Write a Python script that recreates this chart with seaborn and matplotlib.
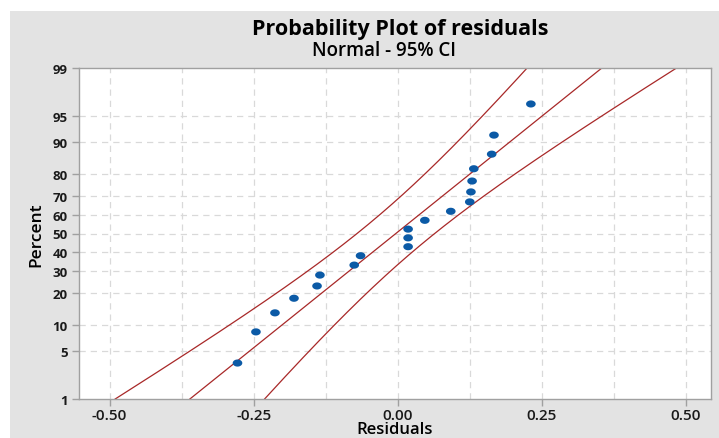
import numpy as np
import pandas as pd
import matplotlib
matplotlib.use("Agg")
import matplotlib.pyplot as plt
import seaborn as sns
from statistics import NormalDist
from matplotlib.patches import Rectangle
from matplotlib.path import Path

# ---- data ----
residuals = [-0.278, -0.246, -0.213, -0.180, -0.140, -0.135, -0.0755, -0.0645,
             0.018, 0.018, 0.018, 0.047, 0.092, 0.125, 0.127, 0.129, 0.132,
             0.163, 0.167, 0.231]
percent_ticks = [1, 5, 10, 20, 30, 40, 50, 60, 70, 80, 90, 95, 99]
x_ticks = [-0.50, -0.25, 0.00, 0.25, 0.50]
x_minor = [-0.375, -0.125, 0.125, 0.375]
title = "Probability Plot of residuals"
subtitle = "Normal - 95% CI"

nd = NormalDist()
r = np.sort(np.array(residuals))
n = len(r)
ranks = (np.arange(1, n + 1) - 0.3) / (n + 0.4)
z_pts = np.array([nd.inv_cdf(p) for p in ranks])
mu = r.mean()
sd = r.std(ddof=1)

zmin, zmax = nd.inv_cdf(0.01), nd.inv_cdf(0.99)
zz = np.linspace(zmin, zmax, 200)
fit = mu + sd * zz
half = 1.96 * sd * np.sqrt(1.0 / n + zz ** 2 / (2 * n))
lines = pd.concat([
    pd.DataFrame({"x": fit, "z": zz, "k": "fit"}),
    pd.DataFrame({"x": fit - half, "z": zz, "k": "lo"}),
    pd.DataFrame({"x": fit + half, "z": zz, "k": "hi"}),
])
pts = pd.DataFrame({"x": r, "z": z_pts})

# ellipse marker (wider than tall)
t = np.linspace(0, 2 * np.pi, 40)
ell = Path(np.column_stack([np.cos(t), 0.74 * np.sin(t)]), closed=True)

plt.rcParams['font.family'] = ['Open Sans', 'DejaVu Sans']
fig = plt.figure(figsize=(7.19, 4.39), dpi=100, facecolor="white")
bg = Rectangle((10 / 719, 0), 1 - 10 / 719, 1 - 12 / 439,
               transform=fig.transFigure, facecolor="#e3e3e3",
               edgecolor="none", zorder=-10)
fig.add_artist(bg)
ax = fig.add_axes([79 / 719, 1 - 400 / 439, (710.7 - 79) / 719, (400 - 69) / 439])
ax.set_zorder(1)
ax.set_facecolor("white")

for k in ["fit", "lo", "hi"]:
    sns.lineplot(data=lines[lines.k == k], x="x", y="z", ax=ax, color="#a82828",
                 linewidth=0.9, sort=False, estimator=None)
sns.scatterplot(data=pts, x="x", y="z", ax=ax, color="#0b5aa6", s=48,
                marker=ell, edgecolor="none", zorder=5)

ax.set_xlim(-0.553, 0.543)
ax.set_ylim(zmin, zmax)
ax.set_xticks(x_ticks)
ax.set_xticklabels([f"{v:.2f}" for v in x_ticks], fontsize=11, fontweight="semibold")
ax.set_yticks([nd.inv_cdf(p / 100) for p in percent_ticks])
ax.set_yticklabels([str(p) for p in percent_ticks], fontsize=9.5, fontweight="bold")

for v in x_ticks + x_minor:
    ax.axvline(v, color="#d9d9d9", linestyle=(0, (5, 4)), linewidth=0.9, zorder=0.5)
for p in percent_ticks[1:-1]:
    ax.axhline(nd.inv_cdf(p / 100), color="#d9d9d9", linestyle=(0, (5, 4)),
               linewidth=0.9, zorder=0.5)

for s in ax.spines.values():
    s.set_color("#a0a0a0")
    s.set_linewidth(1.0)
ax.tick_params(axis="both", colors="#a0a0a0", labelcolor="#1a1a1a", length=5, width=1)
ax.tick_params(axis="x", pad=1.5)
ax.tick_params(axis="y", pad=3)

ax.set_xlabel("Residuals", fontsize=12, fontweight="semibold", labelpad=-1)
ax.set_ylabel("Percent", fontsize=12.5, fontweight="semibold", labelpad=6)

fig.text(400 / 719, 1 - 30 / 439, title, ha="center", va="center",
         fontsize=15.5, fontweight="bold")
fig.text(384 / 719, 1 - 51 / 439, subtitle, ha="center", va="center",
         fontsize=13.5, fontweight="semibold")

fig.savefig("out.png", dpi=100, facecolor="white")
